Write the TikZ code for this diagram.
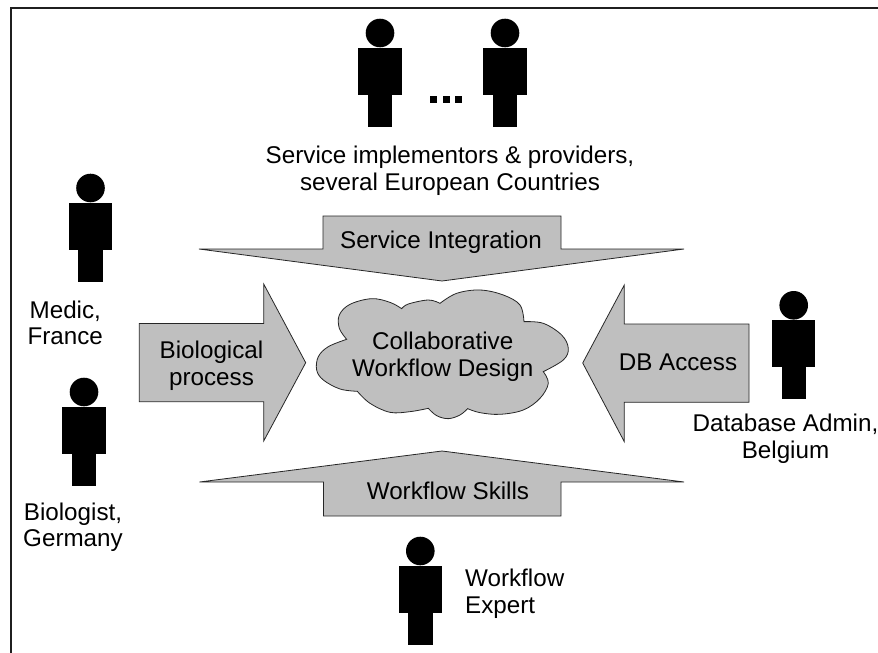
\documentclass[tikz,border=0pt]{standalone}
\usepackage{fontspec}
\setmainfont{Liberation Sans}
\tikzset{
  x=1pt,y=-1pt,
  frameline/.style={draw=black!88,line width=2.3pt,line cap=butt},
  flow/.style={draw=black!85,fill=black!25,line width=0.8pt,line join=miter},
  label/.style={inner sep=0pt,align=center,text=black,anchor=base,font=\fontsize{24.2}{26.4}\selectfont},
  leftlabel/.style={label,align=left,anchor=base west},
  person/.pic={
    \fill[black] (0,0) circle[radius=14.3];
    \fill[black] (-21.7,15) rectangle (21.7,62);
    \fill[black] (-12.2,62) rectangle (12.2,94);
  }
}
\begin{document}
\begin{tikzpicture}
\useasboundingbox (0,0) rectangle (878,653);
\draw[frameline] (11,653) -- (11,8) -- (878,8);
% persons
\pic at (380,33) {person};
\pic at (505,33) {person};
\pic at (90.5,188) {person};
\pic at (84,392) {person};
\pic at (793.7,305.3) {person};
\pic at (420.3,551) {person};
% dots
\fill (430,96) rectangle (436.7,102.7);
\fill (443,96) rectangle (449.7,102.7);
\fill (455,96) rectangle (461.7,102.7);
% block arrows
\draw[flow] (199,249) -- (323,249) -- (323,216) -- (561,216) -- (561,249) -- (684,249) -- (442,281) -- cycle;
\draw[flow] (199.5,482) -- (323.5,482) -- (323.5,516) -- (561,516) -- (561,482) -- (684,482) -- (442,451) -- cycle;
\draw[flow] (139.3,323.5) -- (263.7,323.5) -- (263.7,284) -- (305.7,362.7) -- (263.7,441) -- (263.7,401.7) -- (139.3,401.7) -- cycle;
\draw[flow] (749,324) -- (624.3,324) -- (624.3,285) -- (582.7,363) -- (624.3,441.7) -- (624.3,402.3) -- (749,402.3) -- cycle;
% cloud
\draw[flow,shift={(300,270)},x=0.3333pt,y=-0.3333pt]
  plot[smooth,tension=0.6] coordinates {(140,208) (118,175) (118,135) (150,103) (215,86) (270,97) (305,116)}
  -- plot[smooth,tension=0.6] coordinates {(305,116) (325,102) (385,90) (420,100)}
  -- plot[smooth,tension=0.6] coordinates {(420,100) (470,70) (540,60) (610,75) (660,105) (672,155)}
  -- plot[smooth,tension=0.6] coordinates {(672,155) (730,160) (785,195) (805,235) (790,270) (730,305)}
  -- plot[smooth,tension=0.6] coordinates {(730,305) (745,340) (720,385) (670,420) (600,433) (540,428) (503,416)}
  -- plot[smooth,tension=0.6] coordinates {(503,416) (480,435) (445,446) (410,437) (385,415)}
  -- plot[smooth,tension=0.6] coordinates {(385,415) (330,425) (270,427) (210,400) (172,364)}
  -- plot[smooth,tension=0.6] coordinates {(172,364) (120,357) (70,330) (50,300) (55,260) (85,230) (140,208)}
  -- cycle;
% labels (anchored at the baseline of the last line)
\node[label] (providers) at (450,190) {Service implementors \& providers,\\several European Countries};
\node[label] (integration) at (441,248) {Service Integration};
\node[label] (process) at (211.5,385) {Biological\\process};
\node[label] (cloudtext) at (442.7,376) {Collaborative\\Workflow Design};
\node[label] (dbaccess) at (678,370.7) {DB Access};
\node[label] (admin) at (785.5,458) {Database Admin,\\Belgium};
\node[label] (skills) at (448,499.3) {Workflow Skills};
\node[label] (biologist) at (73,546.7) {Biologist,\\Germany};
\node[label] (medic) at (65.3,344.5) {Medic,\\France};
\node[leftlabel] (expert) at (465,613) {Workflow\\Expert};
\end{tikzpicture}
\end{document}
